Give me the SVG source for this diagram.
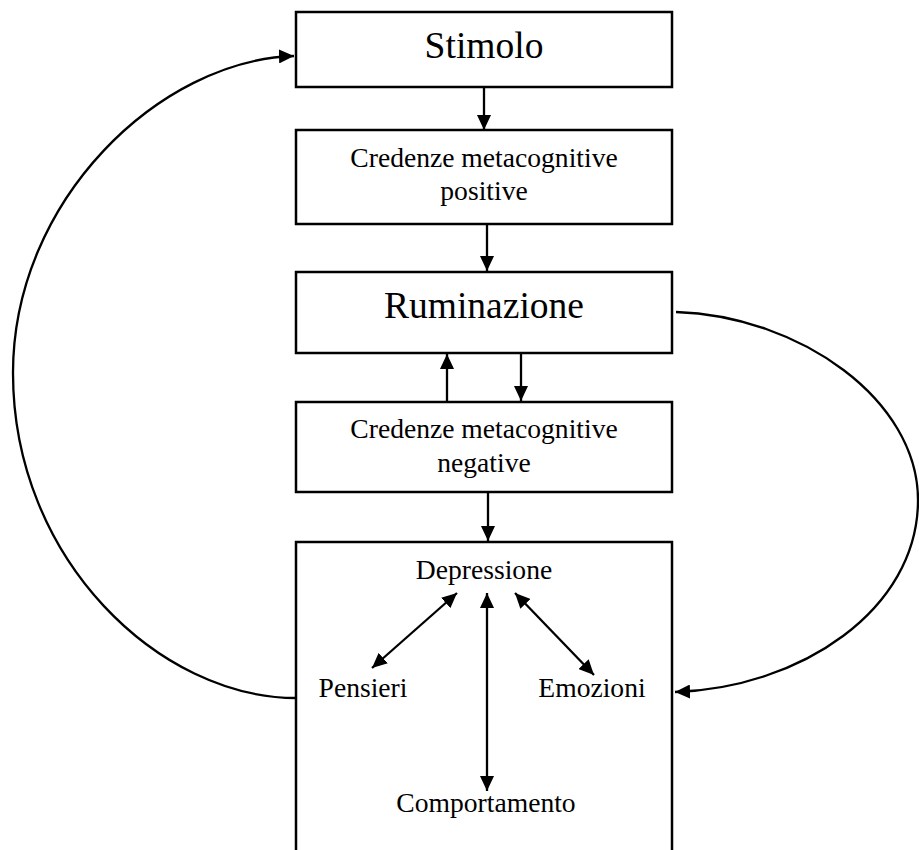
<svg xmlns="http://www.w3.org/2000/svg" width="919" height="850" viewBox="0 0 919 850">
<style>
.box{fill:#fff;stroke:#000;stroke-width:2.5}
.t{font-family:"Liberation Serif","Times New Roman",serif;fill:#000;text-anchor:middle}
.big{font-size:37.5px}
.sm{font-size:27.6px}
.c{fill:none;stroke:#000;stroke-width:2.3}
</style>
<defs>
<marker id="ah" markerUnits="userSpaceOnUse" markerWidth="16" markerHeight="14" refX="15" refY="7" orient="auto-start-reverse">
<path d="M0,0 L15,7 L0,14 z" fill="#000"/>
</marker>
</defs>
<rect width="919" height="850" fill="#fff"/>
<g id="stimolo"><rect class="box" x="296" y="12" width="376" height="75"/><text class="t big" x="484" y="58">Stimolo</text></g>
<g id="credenze-positive"><rect class="box" x="296" y="130" width="376" height="94"/><text class="t sm" x="484" y="167">Credenze metacognitive</text><text class="t sm" x="484" y="200">positive</text></g>
<g id="ruminazione"><rect class="box" x="296" y="272" width="376" height="81"/><text class="t big" x="484" y="318">Ruminazione</text></g>
<g id="credenze-negative"><rect class="box" x="296" y="402" width="376" height="90"/><text class="t sm" x="484" y="438">Credenze metacognitive</text><text class="t sm" x="484" y="472">negative</text></g>
<g id="depressione-box"><rect class="box" x="296" y="542" width="376" height="330"/>
<text class="t sm" x="484" y="579">Depressione</text>
<text class="t sm" x="363" y="697">Pensieri</text>
<text class="t sm" x="592" y="697">Emozioni</text>
<text class="t sm" x="486" y="812">Comportamento</text>
</g>
<g id="connectors">
<line class="c" x1="484" y1="87" x2="484" y2="130" marker-end="url(#ah)"/>
<line class="c" x1="487" y1="224" x2="487" y2="271" marker-end="url(#ah)"/>
<line class="c" x1="447" y1="402" x2="447" y2="354" marker-end="url(#ah)"/>
<line class="c" x1="521" y1="353" x2="521" y2="401" marker-end="url(#ah)"/>
<line class="c" x1="488" y1="492" x2="488" y2="541" marker-end="url(#ah)"/>
<line class="c" x1="372" y1="668" x2="457" y2="593" marker-start="url(#ah)" marker-end="url(#ah)"/>
<line class="c" x1="487" y1="593" x2="487" y2="791" marker-start="url(#ah)" marker-end="url(#ah)"/>
<line class="c" x1="515" y1="593" x2="594" y2="675" marker-start="url(#ah)" marker-end="url(#ah)"/>
<path class="c" d="M296,698 C160,698 13,560 13,373 C13,200 160,60 294,56" marker-end="url(#ah)"/>
<path class="c" d="M676,312 C800,316 918,400 918,500 C918,610 800,688 675,692" marker-end="url(#ah)"/>
</g>
</svg>
